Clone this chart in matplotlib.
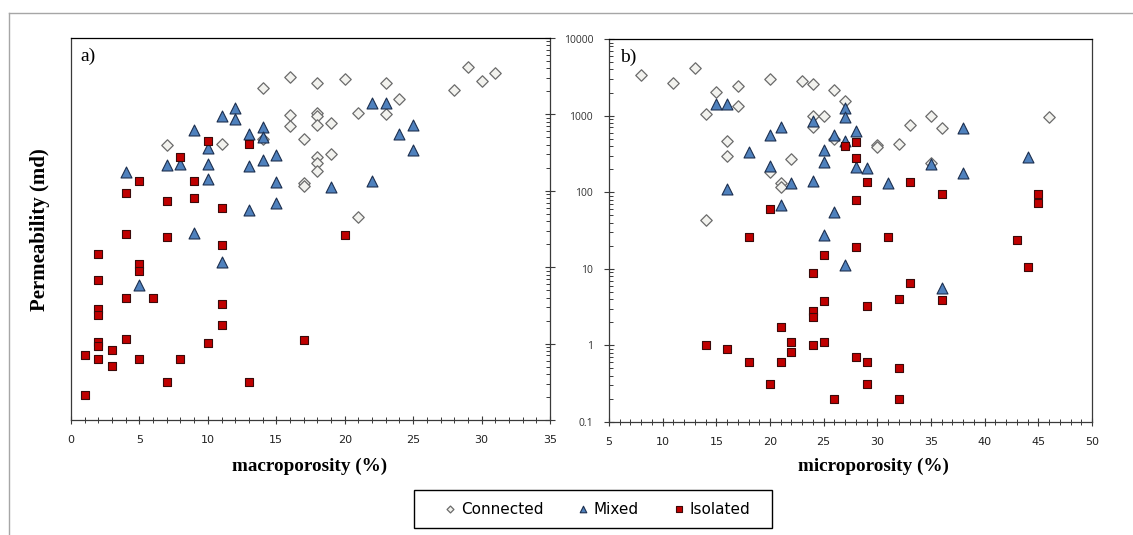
import numpy as np
import matplotlib
matplotlib.use("Agg")
from matplotlib import pyplot as plt
from matplotlib.lines import Line2D
from matplotlib.patches import Rectangle
from matplotlib.ticker import LogLocator, MultipleLocator, NullFormatter, FixedFormatter, FixedLocator

# macroporosity (%) vs permeability (md)
macro_connected_x = [7, 11, 14, 16, 16, 16, 17, 17, 17, 14, 18, 20, 23, 24, 21, 23, 18, 18, 18, 19,
                     18, 18, 18, 19, 21, 28, 29, 30, 31]
macro_connected_y = [398, 410, 2200, 3100, 980, 700, 470, 125, 115, 470, 2600, 2900, 2570, 1580, 1050,
                     1000, 1030, 960, 730, 770, 274, 228, 182, 300, 45, 2090, 4200, 2700, 3450]

macro_mixed_x = [4, 7, 8, 9, 10, 10, 10, 11, 12, 12, 13, 13, 13, 14, 14, 14, 15, 15, 15, 22, 23, 24,
                 25, 25, 19, 22, 9, 11, 5]
macro_mixed_y = [178, 217, 225, 630, 360, 225, 141, 950, 1230, 870, 550, 214, 56, 690, 510, 252, 296,
                 132, 69, 1420, 1400, 555, 720, 340, 112, 134, 28, 11.8, 5.8]

macro_isolated_x = [5, 4, 7, 8, 9, 9, 10, 11, 13, 20, 17, 4, 7, 11, 2, 5, 5, 2, 4, 6, 11, 2, 2, 11,
                    4, 2, 2, 10, 1, 3, 2, 5, 8, 3, 7, 13, 1]
macro_isolated_y = [135, 95, 73, 280, 135, 80, 455, 60, 410, 26, 1.11, 27, 24.5, 19.6, 15, 11, 9.0,
                    6.8, 4.0, 4.0, 3.3, 2.8, 2.35, 1.75, 1.14, 1.06, 0.94, 1.03, 0.71, 0.82, 0.62,
                    0.62, 0.62, 0.51, 0.31, 0.31, 0.21]

# microporosity (%) vs permeability (md)
micro_connected_x = [8, 11, 13, 15, 17, 17, 14, 16, 16, 20, 23, 24, 24, 24, 25, 22, 20, 21, 21, 14,
                     26, 27, 35, 36, 33, 32, 30, 30, 26, 35, 46]
micro_connected_y = [3400, 2700, 4150, 2050, 2450, 1350, 1040, 465, 300, 2980, 2860, 2570, 980, 720,
                     1000, 270, 185, 130, 118, 44, 2150, 1560, 1000, 690, 755, 425, 415, 395, 490,
                     240, 970]

micro_mixed_x = [15, 16, 18, 20, 21, 20, 22, 24, 25, 25, 24, 16, 21, 27, 27, 28, 26, 27, 28, 29, 31,
                 35, 38, 38, 44, 26, 25, 27, 36]
micro_mixed_y = [1400, 1400, 330, 550, 700, 223, 130, 850, 355, 250, 140, 110, 68, 1250, 970, 630,
                 550, 470, 215, 210, 132, 230, 680, 178, 290, 55, 27.6, 11.2, 5.6]

micro_isolated_x = [20, 27, 28, 28, 29, 33, 36, 45, 45, 28, 18, 25, 24, 25, 24, 24, 21, 14, 16, 22,
                    22, 24, 25, 18, 21, 20, 31, 28, 43, 44, 33, 36, 32, 29, 28, 29, 32, 29, 26, 32]
micro_isolated_y = [61, 405, 455, 283, 137, 134, 95, 95, 73, 78, 25.8, 15, 8.7, 3.8, 2.8, 2.33,
                    1.72, 1.0, 0.91, 1.12, 0.81, 1.0, 1.12, 0.60, 0.60, 0.31, 26, 19, 24, 10.6, 6.5,
                    3.9, 4.0, 3.3, 0.71, 0.60, 0.50, 0.31, 0.20, 0.20]

y_ticks = [0.1, 1, 10, 100, 1000, 10000]
y_tick_labels = ["0.1", "1", "10", "100", "1000", "10000"]
legend_labels = ["Connected", "Mixed", "Isolated"]

styles = [
    dict(marker="D", s=34, facecolor="#f2f2ee", edgecolor="#6b6b6b", linewidths=0.9),
    dict(marker="^", s=62, facecolor="#4f81bd", edgecolor="#1c2f4f", linewidths=0.8),
    dict(marker="s", s=38, facecolor="#c00000", edgecolor="#3a0a0a", linewidths=0.8),
]

W, H = 1133, 535
fig = plt.figure(figsize=(W / 100, H / 100), dpi=100)

ax_a = fig.add_axes([71 / W, 1 - 420 / H, 479 / W, 382 / H])
ax_b = fig.add_axes([609 / W, 1 - 422 / H, 483 / W, 383 / H])

sans = ["DejaVu Sans"]


def setup_axis(ax, xlim, ylabel_side):
    ax.set_yscale("log")
    ax.set_ylim(0.1, 10000)
    ax.set_xlim(*xlim)
    ax.xaxis.set_major_locator(MultipleLocator(5))
    ax.xaxis.set_minor_locator(MultipleLocator(1))
    ax.yaxis.set_major_locator(FixedLocator(y_ticks))
    ax.yaxis.set_minor_locator(LogLocator(base=10, subs=np.arange(2, 10), numticks=12))
    ax.yaxis.set_minor_formatter(NullFormatter())
    for sp in ax.spines.values():
        sp.set_color("#3a3a3a")
        sp.set_linewidth(0.9)
    ax.spines["top"].set_color("black")
    ax.tick_params(axis="x", which="major", direction="inout", length=6, width=0.8,
                   color="#3a3a3a", pad=8)
    ax.tick_params(axis="x", which="minor", direction="inout", length=4, width=0.7,
                   color="#3a3a3a")
    ax.tick_params(axis="y", which="major", direction="inout", length=7, width=0.8,
                   color="#3a3a3a")
    ax.tick_params(axis="y", which="minor", direction="in", length=3, width=0.7,
                   color="#3a3a3a")
    for lab in ax.get_xticklabels():
        lab.set_family(sans)
        lab.set_fontsize(8)
        lab.set_color("#222222")
    if ylabel_side == "right":
        ax.yaxis.tick_right()
        ax.tick_params(axis="y", which="both", labelright=False, labelleft=False)
    else:
        ax.yaxis.set_major_formatter(FixedFormatter(y_tick_labels))
        ax.tick_params(axis="y", which="major", pad=8)
        for lab in ax.get_yticklabels():
            lab.set_family("Open Sans")
            lab.set_fontsize(7.5)
            lab.set_color("#333333")


panels = [
    (ax_a, [(macro_connected_x, macro_connected_y), (macro_mixed_x, macro_mixed_y),
            (macro_isolated_x, macro_isolated_y)]),
    (ax_b, [(micro_connected_x, micro_connected_y), (micro_mixed_x, micro_mixed_y),
            (micro_isolated_x, micro_isolated_y)]),
]

handles = []
for ax, series in panels:
    handles = []
    for (xs, ys), st, lab in zip(series, styles, legend_labels):
        handles.append(ax.scatter(xs, ys, label=lab, zorder=3, **st))

setup_axis(ax_a, (0, 35), "right")
setup_axis(ax_b, (5, 50), "left")

ax_a.text(0.02, 0.975, "a)", transform=ax_a.transAxes, family="Liberation Serif",
          fontsize=14, va="top", ha="left")
ax_b.text(0.022, 0.975, "b)", transform=ax_b.transAxes, family="Liberation Serif",
          fontsize=14, va="top", ha="left")

# axis titles
fig.text(310 / W, 1 - 466 / H, "macroporosity (%)", family="Liberation Serif",
         weight="bold", fontsize=13.8, ha="center", va="center")
fig.text(873 / W, 1 - 466 / H, "microporosity (%)", family="Liberation Serif",
         weight="bold", fontsize=13.8, ha="center", va="center")
fig.text(40 / W, 1 - 230 / H, "Permeability (md)", family="Liberation Serif",
         weight="bold", fontsize=15, ha="center", va="center", rotation=90)

# legend with a plain square frame
leg = fig.legend(handles=handles, labels=legend_labels, loc="center",
                 bbox_to_anchor=(597 / W, 1 - 509 / H), ncol=3, frameon=False,
                 markerscale=0.6, handlelength=0.8, handletextpad=0.3,
                 columnspacing=2.2, prop={"family": sans, "size": 11})
fig.add_artist(Rectangle((414 / W, 1 - 528 / H), 358 / W, 38 / H, transform=fig.transFigure,
                         fill=False, edgecolor="black", linewidth=1.0))

# outer frame lines
fig.add_artist(Line2D([9 / W, 9 / W], [0, 1 - 13 / H], transform=fig.transFigure,
                      color="#a6a6a6", linewidth=1.0))
fig.add_artist(Line2D([9 / W, 1], [1 - 13 / H, 1 - 13 / H], transform=fig.transFigure,
                      color="#a6a6a6", linewidth=1.0))

fig.savefig("out.png", dpi=100)
